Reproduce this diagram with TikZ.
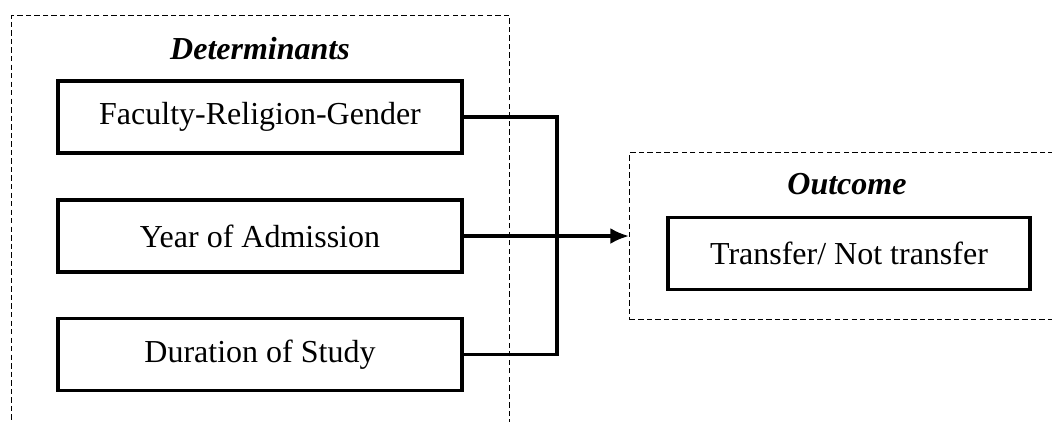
\documentclass[tikz,border=0pt]{standalone}
\usepackage{fontspec}
\setmainfont{Liberation Serif}
\usetikzlibrary{calc, arrows.meta}
\tikzset{>={Latex[length=7pt, width=6pt]}}

\begin{document}
\begin{tikzpicture}[x = 0.375pt, y = -0.375pt,
  font = \fontsize{12}{14}\selectfont,
  detbox/.style = {draw, line width = 1.25pt, minimum width = 151.5pt, minimum height = 27pt, inner sep = 0},
  frame/.style = {draw, dash pattern = on 2pt off 1.2pt, line width = 0.55pt, inner sep = 0},
  heading/.style = {font = \fontsize{12}{14}\selectfont\bfseries\itshape},
  link/.style = {line width = 1.2pt}]
\clip (0, 0) rectangle (1052, 421);
% dashed frames
\node[frame, anchor = north west, minimum width = 498*0.375pt, minimum height = 440*0.375pt] (detframe) at (11, 15) {};
\node[frame, anchor = north west, minimum width = 440*0.375pt, minimum height = 167*0.375pt] (outframe) at (629, 152) {};
\node[heading] (dettitle) at (260, 49) {Determinants};
\node[heading] (outtitle) at (847, 184) {Outcome};
% determinants
\node[detbox] (faculty) at (260, 117) {Faculty-Religion-Gender};
\node[detbox] (year) at (260, 236) {Year of Admission};
\node[detbox] (duration) at (260, 354.5) {Duration of Study};
% outcome
\node[detbox, minimum width = 135.75pt] (transfer) at (849, 253.5) {Transfer/ Not transfer};
% connectors
\coordinate (bend) at (557, 0);
\draw[link] (faculty.east) -- (faculty.east -| bend) -- (duration.east -| bend) -- (duration.east);
\draw[link, ->] (year.east) -- (year.east -| outframe.west);
\end{tikzpicture}
\end{document}
